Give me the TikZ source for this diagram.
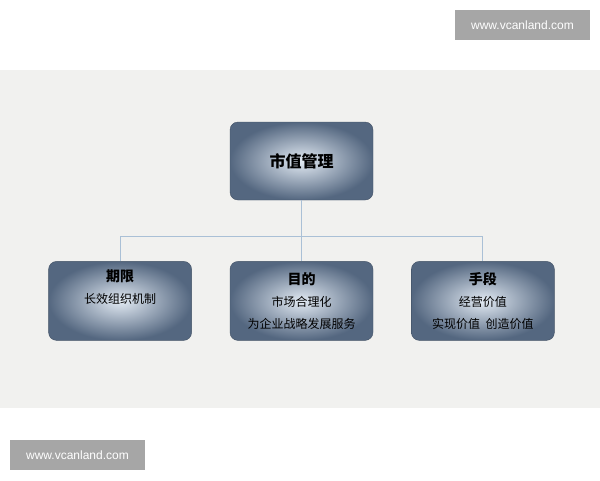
\documentclass[tikz,border=0pt]{standalone}
\usepackage{fontspec}
\usepackage{xcolor}
\usepackage{tikz}
\usetikzlibrary{positioning,calc}
\newfontfamily\cjk{Noto Sans CJK SC}
\setsansfont{Liberation Sans}
\definecolor{paperbg}{RGB}{241,241,239}
\definecolor{slateedge}{RGB}{84,103,128}
\definecolor{slatecore}{RGB}{226,234,243}
\definecolor{linkblue}{RGB}{170,192,214}
\definecolor{markgray}{RGB}{166,166,166}
\tikzstyle{topbox} = [rectangle, rounded corners=8pt, minimum width=143pt, minimum height=78pt, text centered, inner color=slatecore, outer color=slateedge, draw=slateedge!80!black, line width=0.4pt, font=\cjk\bfseries\fontsize{16}{19}\selectfont]
\tikzstyle{subbox} = [rectangle, rounded corners=8pt, minimum width=143pt, minimum height=79pt, text centered, align=center, inner color=slatecore, outer color=slateedge, draw=slateedge!80!black, line width=0.4pt, font=\cjk\fontsize{12}{22}\selectfont]
\tikzstyle{link} = [draw=linkblue, line width=1pt]
\tikzstyle{watermark} = [rectangle, fill=markgray, text=white, minimum width=135pt, minimum height=30pt, inner sep=0pt, font=\sffamily\fontsize{12}{14}\selectfont]
\newcommand{\headline}[1]{{\bfseries\fontsize{14}{22}\selectfont #1}}

\begin{document}
\begin{tikzpicture}[x=1pt, y=-1pt, node distance=61pt and 38pt]
\useasboundingbox (0,0) rectangle (600,480);
\fill[white] (0,0) rectangle (600,480);
\fill[paperbg] (0,70) rectangle (600,408);

% Root
\node [topbox] (mgmt) at (301.5,161) {市值管理};

% Three branches
\node [subbox, below=of mgmt] (goal) {\headline{目的}\\ 市场合理化\\ 为企业战略发展服务};
\node [subbox, left=of goal] (term) {\headline{期限}\\ 长效组织机制\\ \strut};
\node [subbox, right=of goal] (means) {\headline{手段}\\ 经营价值\\ 实现价值\ \ 创造价值};

% Connectors
\coordinate (bus) at ($(mgmt.south)!0.6!(goal.north)$);
\draw [link] (mgmt) -- (goal);
\draw [link] (term.north) |- (bus) -| (means.north);

% Watermarks
\node [watermark] (markone) at (522.5,25) {www.vcanland.com};
\node [watermark] (marktwo) at (77.5,455) {www.vcanland.com};

\end{tikzpicture}
\end{document}
